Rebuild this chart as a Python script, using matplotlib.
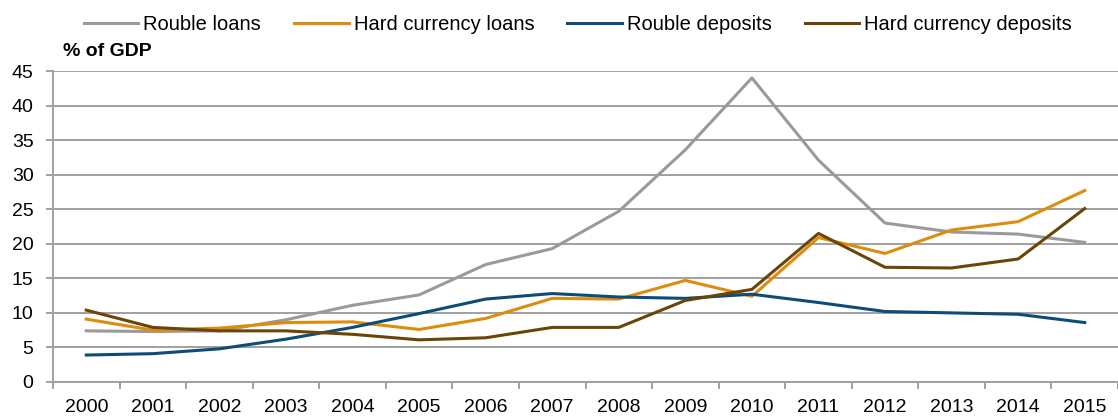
import numpy as np
import matplotlib
matplotlib.use("Agg")
import matplotlib.pyplot as plt

plt.rcParams['font.family'] = ['Liberation Sans', 'DejaVu Sans']

years = [str(y) for y in range(2000, 2016)]

rouble_loans = [7.4, 7.3, 7.4, 9.0, 11.1, 12.6, 17.0, 19.3, 24.7, 33.6, 44.0,
                32.1, 23.0, 21.7, 21.4, 20.2]
hard_loans = [9.1, 7.5, 7.8, 8.6, 8.7, 7.6, 9.2, 12.1, 12.0, 14.7, 12.4,
              20.9, 18.6, 22.0, 23.2, 27.7]
rouble_deposits = [3.9, 4.1, 4.8, 6.2, 7.9, 9.9, 12.0, 12.8, 12.3, 12.1, 12.7,
                   11.5, 10.2, 10.0, 9.8, 8.6]
hard_deposits = [10.4, 7.9, 7.4, 7.4, 6.9, 6.1, 6.4, 7.9, 7.9, 11.8, 13.4,
                 21.5, 16.6, 16.5, 17.8, 25.1]

series = [
    ("Rouble loans", rouble_loans, "#9a9a9c"),
    ("Hard currency loans", hard_loans, "#de8c0c"),
    ("Rouble deposits", rouble_deposits, "#0b4d78"),
    ("Hard currency deposits", hard_deposits, "#6b4507"),
]

fig = plt.figure(figsize=(11.18, 4.16), dpi=100)
ax = fig.add_axes([53 / 1118, 34 / 416, 1 - 53 / 1118, 311 / 416])

x = np.arange(len(years))
for name, vals, col in series:
    ax.plot(x, vals, color=col, lw=2.2, label=name)

ax.set_xlim(-0.5, len(years) - 0.5)
ax.set_ylim(0, 45)
ax.set_yticks(np.arange(0, 46, 5))
ax.yaxis.grid(True, color='#a0a0a0', lw=1.4)
ax.set_axisbelow(True)

# category axis: tick marks between years, labels centred
ax.set_xticks(np.arange(-0.5, len(years), 1.0))
ax.set_xticklabels([])
ax.set_xticks(x, minor=True)
ax.set_xticklabels(years, minor=True)
ax.tick_params(axis='x', which='major', length=5, width=1.4, color='#a0a0a0', direction='out')
ax.tick_params(axis='x', which='minor', length=0, pad=12, labelsize=14)
ax.tick_params(axis='y', length=5, width=1.4, color='#a0a0a0', pad=9, labelsize=14)

for s in ['top', 'right']:
    ax.spines[s].set_visible(False)
for s in ['left', 'bottom']:
    ax.spines[s].set_color('#a0a0a0')
    ax.spines[s].set_linewidth(1.4)

fig.text(63 / 1118, 1 - 51 / 416, "% of GDP", fontsize=14, fontweight='bold',
         ha='left', va='center')

fig.legend(loc='center', bbox_to_anchor=(0.517, 1 - 25 / 416), ncol=4, frameon=False,
           fontsize=14.5, handlelength=2.7, handletextpad=0.25, columnspacing=1.65)

fig.savefig("out.png", dpi=100)
